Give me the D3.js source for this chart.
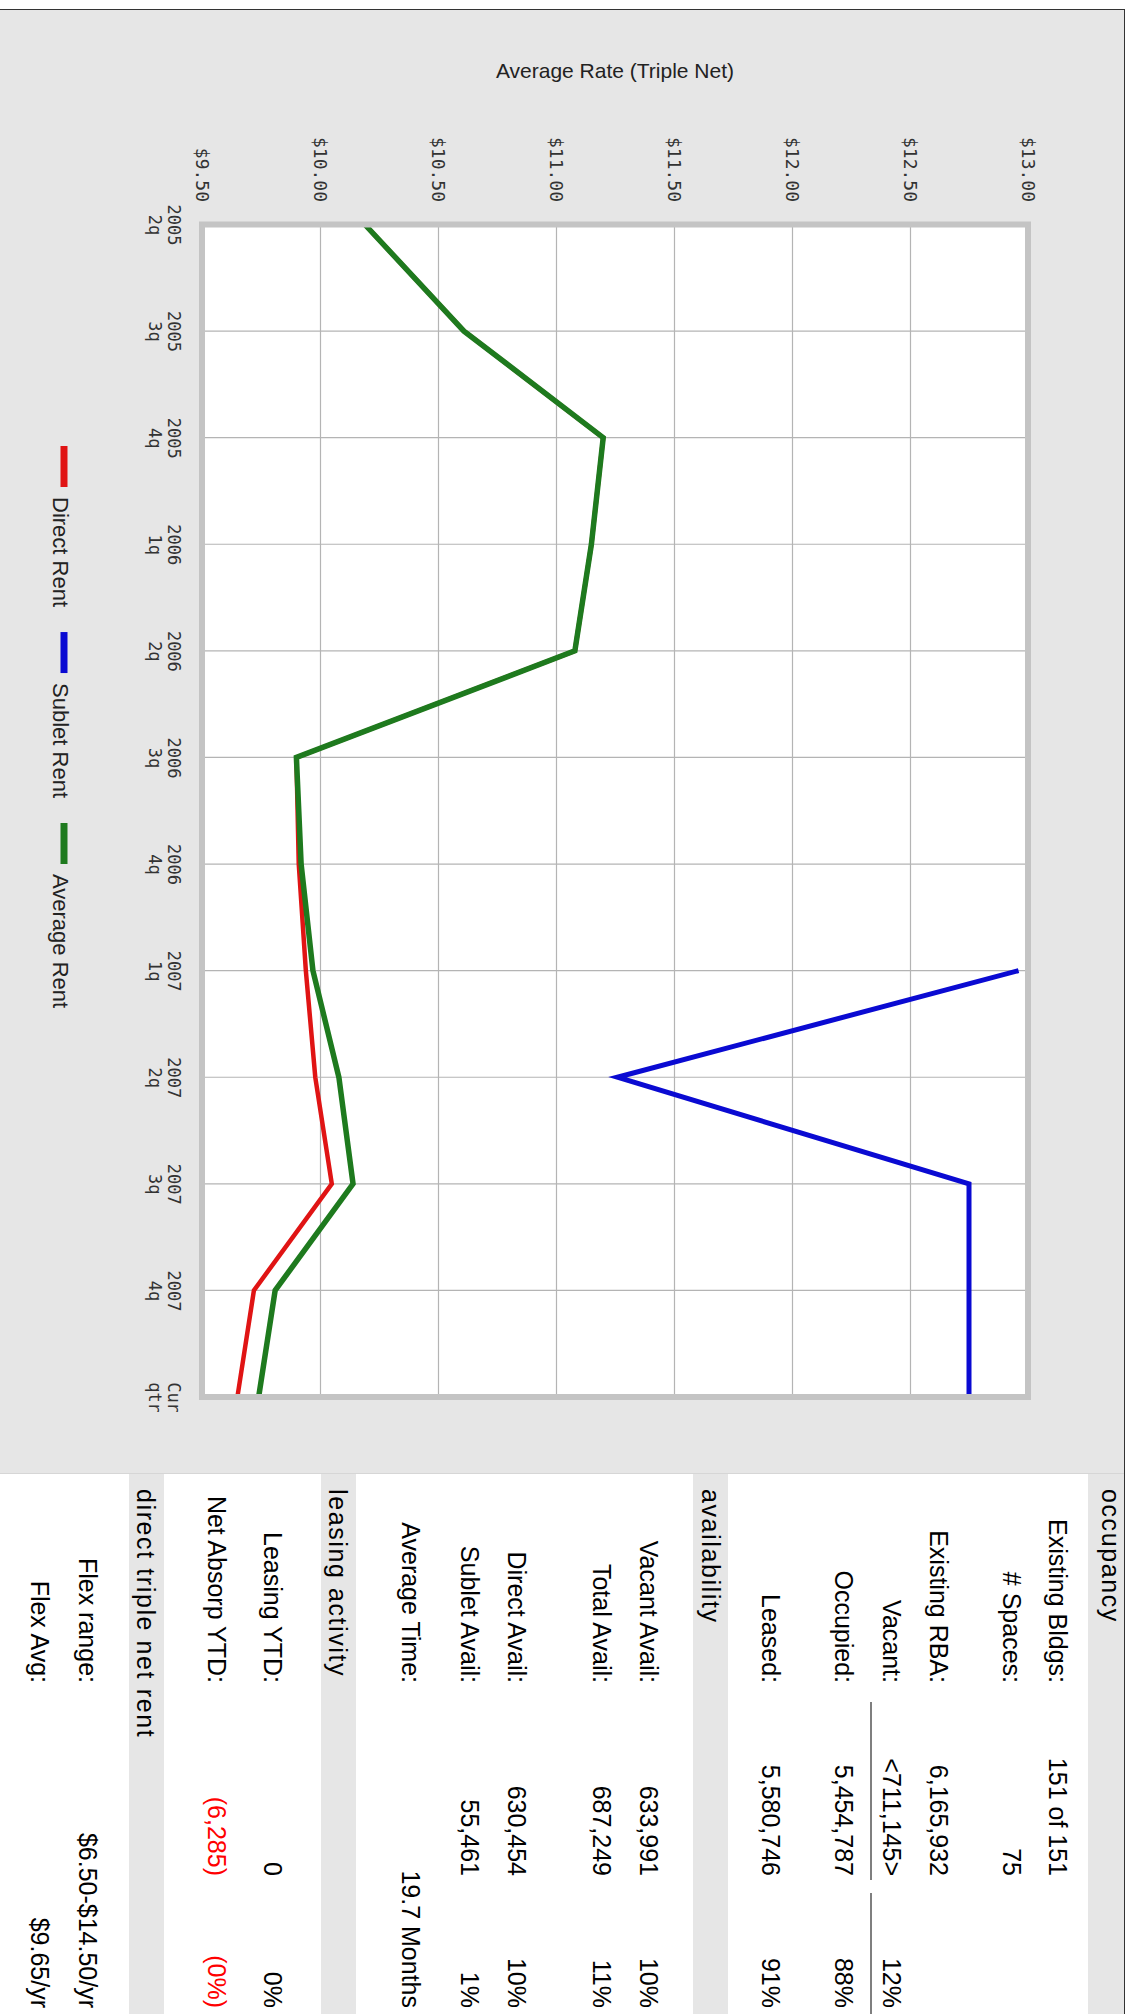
<!DOCTYPE html>
<html><head><meta charset="utf-8">
<script src="https://cdn.jsdelivr.net/npm/d3@7"></script>
<style>body{margin:0;background:#fff}svg{display:block}</style>
</head><body><svg id="c" width="1132" height="2014"></svg>
<script>
// ---------- data ----------
const categories = ["2005 2q","2005 3q","2005 4q","2006 1q","2006 2q","2006 3q","2006 4q","2007 1q","2007 2q","2007 3q","2007 4q","Cur qtr"];
const directRent  = [10.19,10.61,11.20,11.15,11.08,9.90,9.91,9.94,9.98,10.05,9.72,9.65];
const subletRent  = [null,null,null,null,null,null,null,12.96,11.26,12.75,12.75,12.75];
const averageRent = [10.19,10.61,11.20,11.15,11.08,9.90,9.92,9.97,10.08,10.14,9.81,9.74];
const rateTicks = [9.5,10,10.5,11,11.5,12,12.5,13];
const seriesNames = ["Direct Rent","Sublet Rent","Average Rent"];
const chartTitle = "Average Rate (Triple Net)";

const sectionTitles = ["occupancy","availability","leasing activity","direct triple net rent"];
const occupancyRows = [
  ["Existing Bldgs:","151 of 151",""],
  ["# Spaces:","75",""],
  ["Existing RBA:","6,165,932",""],
  ["Vacant:","<711,145>","12%"],
  ["Occupied:","5,454,787","88%"],
  ["Leased:","5,580,746","91%"]];
const availabilityRows = [
  ["Vacant Avail:","633,991","10%"],
  ["Total Avail:","687,249","11%"],
  ["Direct Avail:","630,454","10%"],
  ["Sublet Avail:","55,461","1%"],
  ["Average Time:","","19.7 Months"]];
const leasingRows = [
  ["Leasing YTD:","0","0%"],
  ["Net Absorp YTD:","(6,285)","(0%)"]];
const rentRows = [
  ["Flex range:","","$6.50-$14.50/yr"],
  ["Flex Avg:","","$9.65/yr"]];

// ---------- styles / layout ----------
const colors = ["#e01414","#0a0ad2","#1e7a1e"];
const widths = [4.5,5,5.5];
const svg = d3.select("#c");

// chart panel
svg.append("rect").attr("x",0).attr("y",9).attr("width",1124).attr("height",1464).attr("fill","#e6e6e6");
svg.append("line").attr("x1",0).attr("x2",1125).attr("y1",9.5).attr("y2",9.5).attr("stroke","#333");
svg.append("line").attr("x1",1124.5).attr("x2",1124.5).attr("y1",9).attr("y2",2014).attr("stroke","#333");
svg.append("line").attr("x1",0).attr("x2",1124).attr("y1",1473.5).attr("y2",1473.5).attr("stroke","#d6d6d6");

const x = d3.scaleLinear().domain([9.5,13]).range([202,1028]);
const y = d3.scalePoint().domain(categories).range([224.5,1397]);

// title
svg.append("text").attr("x",(x.range()[0]+x.range()[1])/2).attr("y",78)
  .attr("text-anchor","middle").attr("font-family","Liberation Sans, Arial, sans-serif")
  .attr("font-size",21).attr("fill","#222").text(chartTitle);

// plot background
svg.append("rect").attr("x",x(9.5)).attr("y",y(categories[0]))
  .attr("width",x(13)-x(9.5)).attr("height",y(categories[categories.length-1])-y(categories[0]))
  .attr("fill","#fff");

// gridlines
svg.append("g").selectAll("line").data(rateTicks.slice(1,-1)).join("line")
  .attr("x1",d=>x(d)+0.5).attr("x2",d=>x(d)+0.5)
  .attr("y1",y(categories[0])).attr("y2",y(categories[categories.length-1]))
  .attr("stroke","#b4b4b4").attr("stroke-width",1.2);
svg.append("g").selectAll("line").data(categories.slice(1,-1)).join("line")
  .attr("y1",d=>y(d)).attr("y2",d=>y(d))
  .attr("x1",x(9.5)).attr("x2",x(13))
  .attr("stroke","#b4b4b4").attr("stroke-width",1.2);

// value axis (top, rotated labels)
const axT = svg.append("g").attr("transform","translate(0,202)")
  .call(d3.axisTop(x).tickValues(rateTicks).tickSize(0).tickFormat(d3.format("$.2f")));
axT.select(".domain").remove();
axT.selectAll("text").attr("y",0).attr("x",0).attr("dy","0.35em")
  .attr("transform","rotate(90)").attr("text-anchor","end")
  .attr("font-family","DejaVu Sans Mono, monospace").attr("font-size",18).attr("fill","#333");

// category axis (left, rotated two-line labels)
const axL = svg.append("g").attr("transform","translate(168,0)")
  .call(d3.axisLeft(y).tickSize(0).tickFormat(""));
axL.select(".domain").remove();
axL.selectAll(".tick").each(function(d){
  const parts = d.split(" ");
  const t = d3.select(this).append("text").attr("transform","rotate(90)")
    .attr("text-anchor","middle").attr("font-family","DejaVu Sans Mono, monospace")
    .attr("font-size",17).attr("fill","#333");
  t.append("tspan").attr("x",0).attr("y",0).text(parts[0]);
  t.append("tspan").attr("x",0).attr("y",19).text(parts[1]);
});

// series lines
const series = [directRent, subletRent, averageRent];
const line = d3.line().defined(d=>d.v!=null).x(d=>x(d.v)).y(d=>y(d.c));
series.forEach((s,i)=>{
  svg.append("path").datum(s.map((v,j)=>({c:categories[j],v})))
    .attr("d",line).attr("fill","none").attr("stroke",colors[i])
    .attr("stroke-width",widths[i]).attr("stroke-linejoin","miter");
});

// plot frame
svg.append("rect").attr("x",x(9.5)).attr("y",y(categories[0]))
  .attr("width",x(13)-x(9.5)).attr("height",y(categories[categories.length-1])-y(categories[0]))
  .attr("fill","none").attr("stroke","#c4c4c4").attr("stroke-width",6);

// legend (rotated)
let ly = 446;
const lg = svg.append("g");
seriesNames.forEach((n,i)=>{
  lg.append("line").attr("x1",64).attr("x2",64).attr("y1",ly).attr("y2",ly+41)
    .attr("stroke",colors[i]).attr("stroke-width",7);
  ly += 51;
  const t = lg.append("text").attr("transform",`translate(53,${ly}) rotate(90)`)
    .attr("font-family","Liberation Sans, Arial, sans-serif").attr("font-size",22)
    .attr("fill","#222").text(n);
  ly += t.node().getComputedTextLength() + 25;
});

// ---------- table ----------
const tf = "Liberation Sans, Arial, sans-serif";
svg.append("rect").attr("x",0).attr("y",1474).attr("width",1124).attr("height",540).attr("fill","#fff");
const sections = [
  {rows:occupancyRows, band:[1088,1124], tb:1102, rb:[1049,1003,930,883,835,762]},
  {rows:availabilityRows, band:[693,728], tb:702, rb:[640,593,508,461,402]},
  {rows:leasingRows, band:[321,356], tb:329, rb:[264,208]},
  {rows:rentRows, band:[129,164], tb:137, rb:[79,31]}
];
function rtext(bx, endY, str, anchor, color, ls){
  const t = svg.append("text").attr("transform",`translate(${bx},${endY}) rotate(90)`)
    .attr("text-anchor",anchor).attr("font-family",tf).attr("font-size",25)
    .attr("fill",color||"#000").text(str);
  if(ls) t.attr("letter-spacing",ls);
  return t;
}
sections.forEach((s,si)=>{
  svg.append("rect").attr("x",s.band[0]).attr("y",1474).attr("width",s.band[1]-s.band[0]).attr("height",540).attr("fill","#e6e6e6");
  rtext(s.tb, 1489, sectionTitles[si], "start", "#000", 1.6);
  s.rows.forEach((r,ri)=>{
    const b = s.rb[ri];
    rtext(b, 1683, r[0], "end");
    if(r[1]) rtext(b, 1876, r[1], "end", r[1].startsWith("(")?"#f00":"#000");
    if(r[2]) rtext(b, 2008, r[2], "end", r[2].startsWith("(")?"#f00":"#000");
  });
});
// underline below Vacant row
svg.append("line").attr("x1",871).attr("x2",871).attr("y1",1702).attr("y2",1880).attr("stroke","#555").attr("stroke-width",1.5);
svg.append("line").attr("x1",871).attr("x2",871).attr("y1",1893).attr("y2",2014).attr("stroke","#555").attr("stroke-width",1.5);
</script></body></html>
